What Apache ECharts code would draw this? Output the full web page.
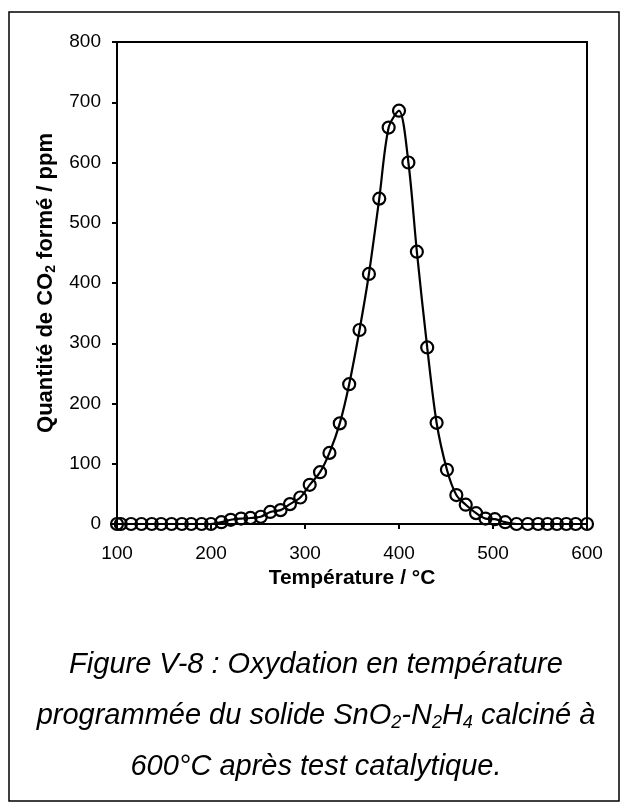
<!DOCTYPE html>
<html>
<head>
<meta charset="utf-8">
<script src="https://cdn.jsdelivr.net/npm/echarts@6/dist/echarts.min.js"></script>
<style>
html,body{margin:0;padding:0;background:#fff;}
#chart{width:628px;height:810px;}
</style>
</head>
<body>
<div id="chart"></div>
<script>
// Temperatures (°C) of each measured point
var temperatures = [100, 104, 115, 126, 137, 147, 158, 169, 179, 190,
  200, 211, 221, 232, 242, 253, 263, 274, 284, 295,
  305, 316, 326, 337, 347, 358, 368, 379, 389, 400,
  410, 419, 430, 440, 451, 461, 471, 482, 492, 502,
  513, 525, 537, 548, 558, 568, 578, 588, 600];
// CO2 formed (ppm)
var co2 = [0, 0, 0, 0, 0, 0, 0, 0, 0, 0,
  0, 3, 7, 9, 10, 12, 20, 23, 33, 44,
  65, 86, 118, 167, 232, 322, 415, 540, 658, 686,
  600, 452, 293, 168, 90, 48, 32, 18, 9, 8,
  3, 0, 0, 0, 0, 0, 0, 0, 0];
var xTicks = [100, 200, 300, 400, 500, 600];
var yTicks = [0, 100, 200, 300, 400, 500, 600, 700, 800];
var xTitle = 'Température / °C';
var yTitle = 'Quantité de CO{sub|2} formé / ppm';
var captionLines = [
  'Figure V-8 : Oxydation en température',
  'programmée du solide SnO{sub|2}-N{sub|2}H{sub|4} calciné à',
  '600°C après test catalytique.'
];

var FONT = '"Liberation Sans", Arial, sans-serif';
var points = temperatures.map(function (t, i) { return [t, co2[i]]; });

var chart = echarts.init(document.getElementById('chart'), null, {renderer: 'canvas'});

var captionGraphics = captionLines.map(function (line, i) {
  return {
    type: 'text',
    x: 316,
    y: 665 + i * 51,
    style: {
      text: line,
      fill: '#000',
      font: 'italic 29px ' + FONT,
      textAlign: 'center',
      textVerticalAlign: 'middle',
      rich: {
        sub: {fontSize: 18, fontStyle: 'italic', fontFamily: FONT, verticalAlign: 'bottom', padding: [14, 0, 0, 0], fill: '#000'}
      }
    }
  };
});

chart.setOption({
  animation: false,
  backgroundColor: '#fff',
  grid: {left: 117, right: 41, top: 42, bottom: 286, show: true, borderColor: '#000', borderWidth: 2, containLabel: false},
  xAxis: {
    type: 'value',
    min: xTicks[0], max: xTicks[xTicks.length - 1], interval: 100,
    name: xTitle,
    nameLocation: 'middle',
    nameGap: 43,
    nameTextStyle: {fontFamily: FONT, fontWeight: 'bold', fontSize: 21, color: '#000'},
    axisLine: {show: true, onZero: false, lineStyle: {color: '#000', width: 2}},
    axisTick: {show: true, inside: false, length: 5, lineStyle: {color: '#000', width: 2}},
    axisLabel: {fontFamily: FONT, fontSize: 19, color: '#000', margin: 20},
    splitLine: {show: false}
  },
  yAxis: {
    type: 'value',
    min: yTicks[0], max: yTicks[yTicks.length - 1], interval: 100,
    name: yTitle,
    nameLocation: 'middle',
    nameGap: 50,
    nameTextStyle: {
      fontFamily: FONT, fontWeight: 'bold', fontSize: 22, color: '#000',
      rich: {sub: {fontFamily: FONT, fontWeight: 'bold', fontSize: 14, verticalAlign: 'bottom', padding: [11, 0, 0, 0], color: '#000'}}
    },
    axisLine: {show: true, onZero: false, lineStyle: {color: '#000', width: 2}},
    axisTick: {show: true, inside: false, length: 5, lineStyle: {color: '#000', width: 2}},
    axisLabel: {fontFamily: FONT, fontSize: 19, color: '#000', margin: 16},
    splitLine: {show: false}
  },
  graphic: [{
    type: 'rect',
    shape: {x: 9, y: 12, width: 610, height: 789},
    style: {fill: 'none', stroke: '#000', lineWidth: 1.5},
    silent: true
  }].concat(captionGraphics),
  series: [{
    type: 'line',
    data: points,
    smooth: 0.3,
    clip: false,
    symbol: 'circle',
    symbolSize: 12,
    itemStyle: {color: 'rgba(255,255,255,0)', borderColor: '#000', borderWidth: 2.2},
    lineStyle: {color: '#000', width: 2.2}
  }]
});
</script>
</body>
</html>
